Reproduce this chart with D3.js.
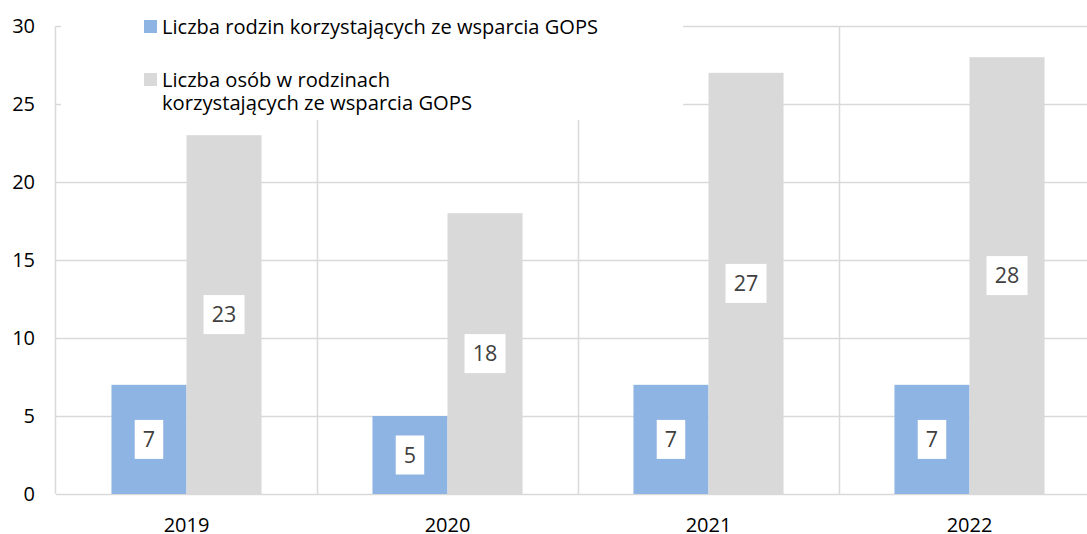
<!DOCTYPE html>
<html>
<head>
<meta charset="utf-8">
<script src="https://cdn.jsdelivr.net/npm/d3@7"></script>
<style>
  html, body { margin: 0; padding: 0; background: #fff; }
  svg { display: block; font-family: "Open Sans", "Noto Sans", sans-serif; }
</style>
</head>
<body>
<svg id="chart" width="1087" height="534"></svg>
<script>
const categories = ["2019", "2020", "2021", "2022"];
const seriesNames = [
  "Liczba rodzin korzystających ze wsparcia GOPS",
  "Liczba osób w rodzinach korzystających ze wsparcia GOPS"
];
const families = [7, 5, 7, 7];
const persons = [23, 18, 27, 28];
const yTicks = [0, 5, 10, 15, 20, 25, 30];
const legendLines = [
  ["Liczba rodzin korzystających ze wsparcia GOPS"],
  ["Liczba osób w rodzinach", "korzystających ze wsparcia GOPS"]
];

(function () {
const colors = ["#8eb4e3", "#d9d9d9"];
const gridColor = "#d9d9d9";

const svg = d3.select("#chart");
const pLeft = 56, pRight = 1100, pTop = 26, pBottom = 494;

const x = d3.scaleBand().domain(categories).range([pLeft, pRight])
  .paddingInner(0.425).paddingOuter(0.2125);
const step = x.step();
const xs = d3.scaleBand().domain([0, 1]).range([0, x.bandwidth()]);
const y = d3.scaleLinear().domain([0, 30]).range([pBottom, pTop]);

// horizontal gridlines
svg.append("g").selectAll("line").data(yTicks).join("line")
  .attr("x1", pLeft).attr("x2", pRight)
  .attr("y1", d => Math.round(y(d)) + 0.5).attr("y2", d => Math.round(y(d)) + 0.5)
  .attr("stroke", gridColor).attr("stroke-width", 1.5);

// vertical category separators
const seps = categories.slice(1).map(c => x(c) - x.paddingInner() * step / 2);
svg.append("g").selectAll("line").data(seps).join("line")
  .attr("x1", d => Math.round(d) + 0.5).attr("x2", d => Math.round(d) + 0.5)
  .attr("y1", pTop).attr("y2", pBottom)
  .attr("stroke", gridColor).attr("stroke-width", 1.5);

// left axis line
svg.append("line")
  .attr("x1", pLeft - 0.5).attr("x2", pLeft - 0.5)
  .attr("y1", pTop).attr("y2", pBottom)
  .attr("stroke", gridColor).attr("stroke-width", 1.5);

// y tick labels
svg.append("g").selectAll("text").data(yTicks).join("text")
  .attr("x", 35).attr("y", d => y(d))
  .attr("dy", "0.35em")
  .attr("text-anchor", "end")
  .attr("font-size", 20).attr("fill", "#000")
  .text(d => d);

// x tick labels
svg.append("g").selectAll("text").data(categories).join("text")
  .attr("x", d => x(d) + x.bandwidth() / 2)
  .attr("y", 532)
  .attr("text-anchor", "middle")
  .attr("font-size", 20).attr("fill", "#000")
  .text(d => d);

// bars
const series = [families, persons];
const barData = [];
series.forEach((vals, si) => vals.forEach((v, i) => barData.push({ cat: categories[i], s: si, v })));

svg.append("g").selectAll("rect").data(barData).join("rect")
  .attr("x", d => x(d.cat) + xs(d.s))
  .attr("width", xs.bandwidth())
  .attr("y", d => y(d.v))
  .attr("height", d => y(0) - y(d.v))
  .attr("fill", d => colors[d.s]);

// data labels with white boxes
const lbl = svg.append("g").selectAll("g").data(barData).join("g")
  .attr("transform", d => `translate(${x(d.cat) + xs(d.s) + xs.bandwidth() / 2},${(y(d.v) + y(0)) / 2})`);
lbl.append("rect")
  .attr("x", d => -(String(d.v).length * 12.5 + 16) / 2)
  .attr("width", d => String(d.v).length * 12.5 + 16)
  .attr("y", -19.5).attr("height", 39)
  .attr("fill", "#fff");
lbl.append("text")
  .attr("text-anchor", "middle")
  .attr("dy", "0.36em")
  .attr("font-size", 21.5)
  .attr("fill", "#404040")
  .text(d => d.v);

// legend (white background covering grid)
svg.append("rect").attr("x", 61).attr("y", 8).attr("width", 622).attr("height", 112).attr("fill", "#fff");

const legendSquares = [20, 73];
const legendBaselines = [[34], [87, 110]];
const legendWidths = [[436], [228, 310]];
legendLines.forEach((lines, i) => {
  svg.append("rect").attr("x", 144).attr("y", legendSquares[i])
    .attr("width", 13).attr("height", 13).attr("fill", colors[i]);
  lines.forEach((t, j) => {
    svg.append("text")
      .attr("x", 162).attr("y", legendBaselines[i][j])
      .attr("font-size", 19.5).attr("fill", "#000")
      .attr("textLength", legendWidths[i][j]).attr("lengthAdjust", "spacingAndGlyphs")
      .text(t);
  });
});
})();
</script>
</body>
</html>
